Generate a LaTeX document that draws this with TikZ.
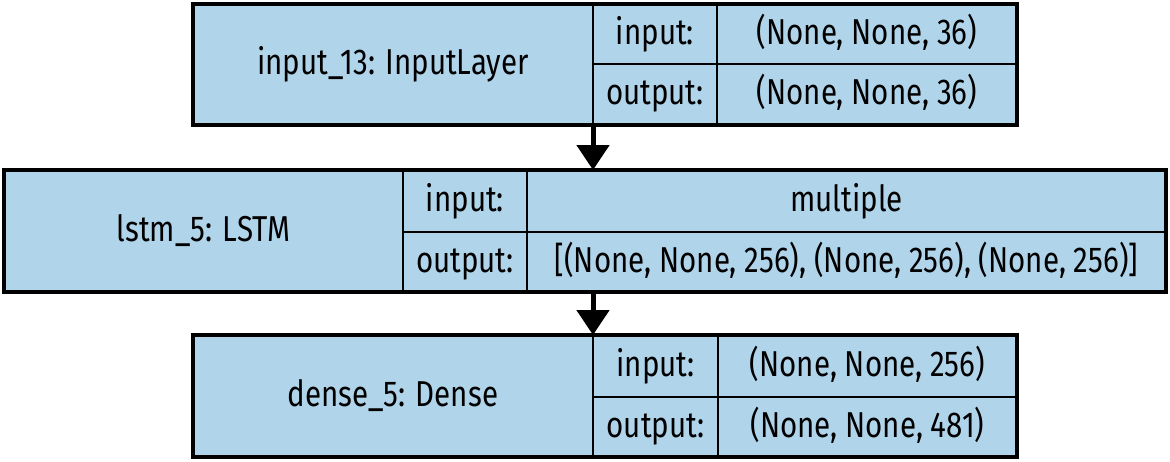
\documentclass[tikz,border=0pt]{standalone}
\usepackage{fontspec}
\setmainfont{Fira Sans}[FakeStretch=0.82]
\usetikzlibrary{arrows.meta}
\definecolor{cellblue}{RGB}{176,212,234}
\tikzset{
  cell/.style={draw=black, line width=2.6pt, fill=cellblue, inner sep=0pt, outer sep=0pt,
    anchor=north west, align=center, text height=25pt, text depth=5pt,
    font=\fontsize{36}{40}\selectfont},
  blockframe/.style={draw=black, line width=4pt},
  flow/.style={draw=black, line width=5pt, -{Triangle[width=32pt,length=25pt]}}
}
\begin{document}
\begin{tikzpicture}[x=1pt,y=-1pt]
\useasboundingbox (0,0) rectangle (1170,461);
% top block
\node[cell, minimum width=400pt, minimum height=121pt] (tname) at (193,4) {input\_13: InputLayer};
\node[cell, minimum width=124pt, minimum height=60pt] (tinl) at (593,4) {input:};
\node[cell, minimum width=124pt, minimum height=61pt] (toutl) at (593,64) {output:};
\node[cell, minimum width=300pt, minimum height=60pt] (tinv) at (717,4) {(None, None, 36)};
\node[cell, minimum width=300pt, minimum height=61pt] (toutv) at (717,64) {(None, None, 36)};
\draw[blockframe] (tname.north west) rectangle (toutv.south east);
% middle block
\node[cell, minimum width=399pt, minimum height=122pt] (mname) at (4,170) {lstm\_5: LSTM};
\node[cell, minimum width=124pt, minimum height=62pt] (minl) at (403,170) {input:};
\node[cell, minimum width=124pt, minimum height=60pt] (moutl) at (403,232) {output:};
\node[cell, minimum width=639pt, minimum height=62pt] (minv) at (527,170) {multiple};
\node[cell, minimum width=639pt, minimum height=60pt] (moutv) at (527,232) {[(None, None, 256), (None, 256), (None, 256)]};
\draw[blockframe] (mname.north west) rectangle (moutv.south east);
% bottom block
\node[cell, minimum width=400pt, minimum height=122pt] (bname) at (193,335) {dense\_5: Dense};
\node[cell, minimum width=125pt, minimum height=62pt] (binl) at (593,335) {input:};
\node[cell, minimum width=125pt, minimum height=60pt] (boutl) at (593,397) {output:};
\node[cell, minimum width=299pt, minimum height=62pt] (binv) at (718,335) {(None, None, 256)};
\node[cell, minimum width=299pt, minimum height=60pt] (boutv) at (718,397) {(None, None, 481)};
\draw[blockframe] (bname.north west) rectangle (boutv.south east);
% connectors
\draw[flow] (toutl.south west) -- (toutl.south west |- minv.north);
\draw[flow] (moutv.south west -| binl.north west) -- (binl.north west);
\end{tikzpicture}
\end{document}
